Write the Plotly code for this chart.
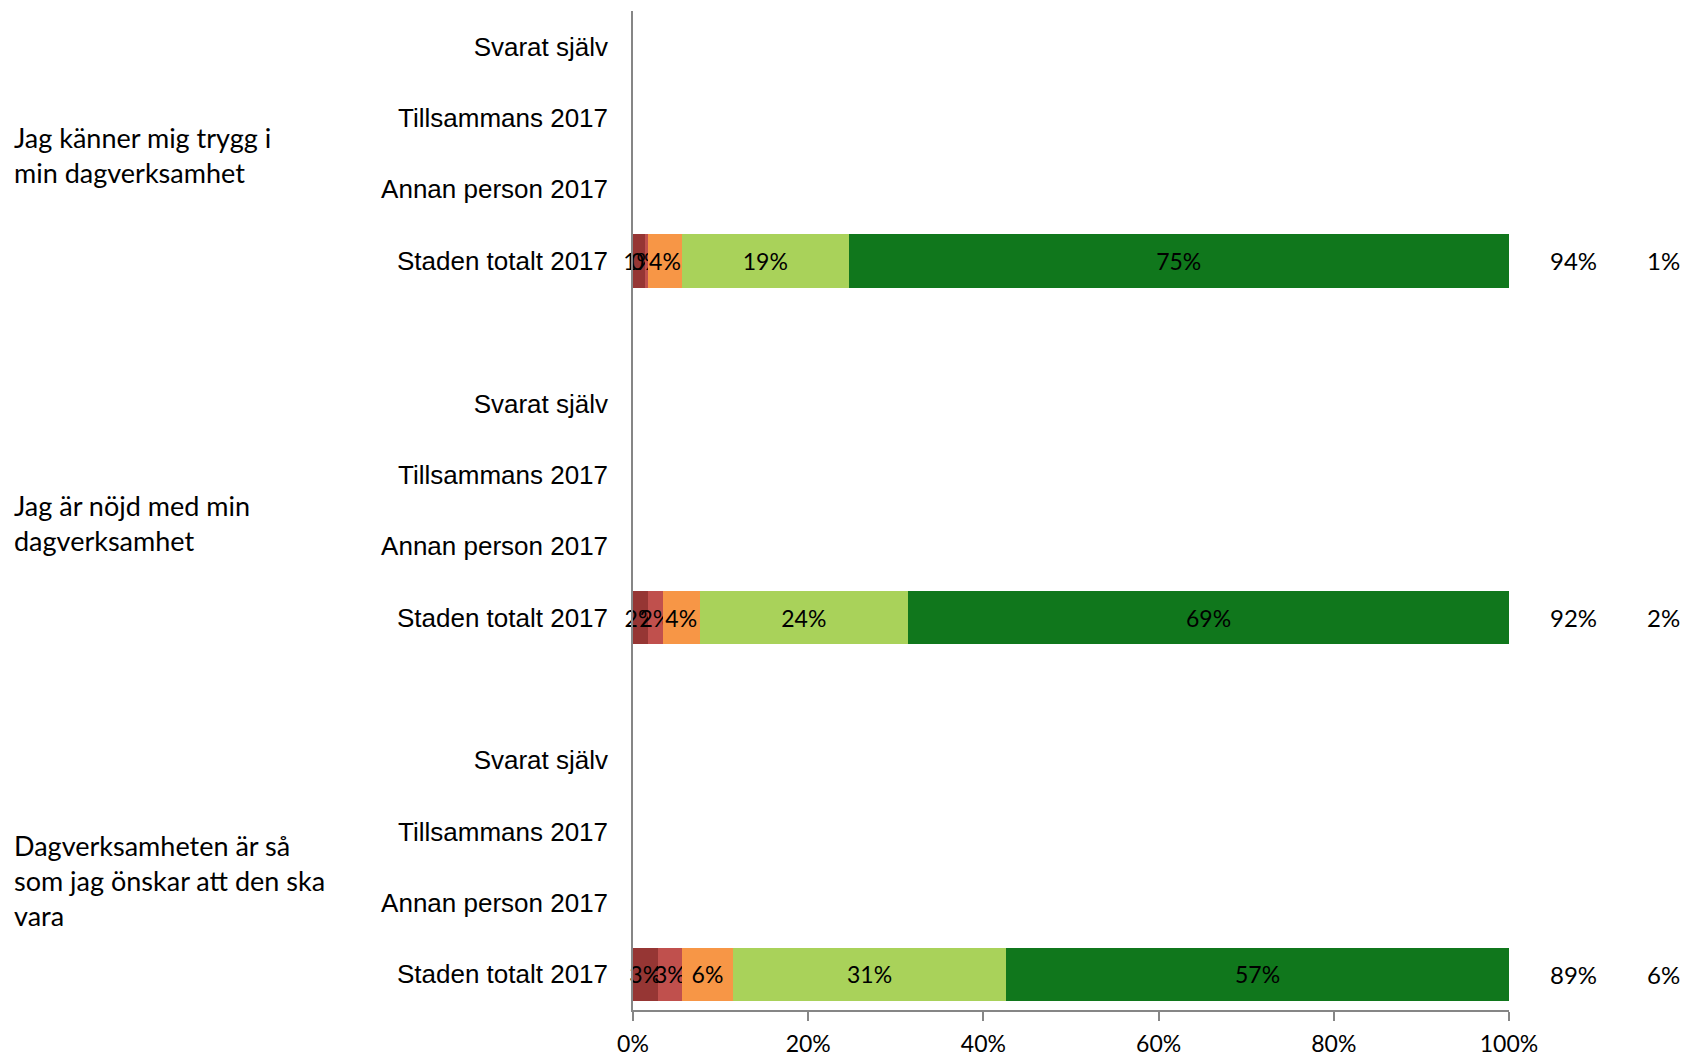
import plotly.graph_objects as go

# ---- data ----
row_labels = ["Svarat själv", "Tillsammans 2017", "Annan person 2017", "Staden totalt 2017"]
questions = [
    "Jag känner mig trygg i<br>min dagverksamhet",
    "Jag är nöjd med min<br>dagverksamhet",
    "Dagverksamheten är så<br>som jag önskar att den ska<br>vara",
]
series_names = ["Stämmer inte alls", "Stämmer ganska dåligt", "Stämmer delvis",
                "Stämmer ganska bra", "Stämmer helt"]
s_inte_alls = [1.4, 1.7, 2.8]
s_ganska_daligt = [0.3, 1.7, 2.8]
s_delvis = [3.9, 4.2, 5.8]
s_ganska_bra = [19.0, 23.8, 31.2]
s_helt = [75.4, 68.6, 57.4]
positiv_andel = ["94%", "92%", "89%"]
negativ_andel = ["1%", "2%", "6%"]
x_tick_values = [0, 20, 40, 60, 80, 100]
x_tick_labels = ["0%", "20%", "40%", "60%", "80%", "100%"]

# ---- style ----
colors = ["#963634", "#C0504D", "#F79646", "#A9D25A", "#10771C"]
series_values = [s_inte_alls, s_ganska_daligt, s_delvis, s_ganska_bra, s_helt]

slots_per_group = len(row_labels) + 1
tickvals, ticktext = [], []
for g in range(len(questions)):
    for j, lab in enumerate(row_labels):
        tickvals.append(g * slots_per_group + j)
        ticktext.append(lab)
bar_rows = [g * slots_per_group + row_labels.index("Staden totalt 2017") for g in range(len(questions))]
last_slot = tickvals[-1]

fig = go.Figure()
for name, vals, col in zip(series_names, series_values, colors):
    fig.add_trace(go.Bar(
        name=name, x=vals, y=bar_rows, orientation="h",
        marker=dict(color=col, line=dict(width=0)),
        width=0.75,
        texttemplate="%{x:.0f}%", textposition="inside", insidetextanchor="middle",
        textangle=0, constraintext="none", cliponaxis=False,
        textfont=dict(family="Lato", size=23, color="black"),
    ))

group_centers = [1.52, 6.68, 11.68]

annotations = []
for q, yc in zip(questions, group_centers):
    annotations.append(dict(text=q, xref="paper", yref="y", x=-0.709, y=yc,
                            xanchor="left", yanchor="middle", align="left", showarrow=False,
                            font=dict(family="Lato", size=27, color="black")))
for yrow, p, n in zip(bar_rows, positiv_andel, negativ_andel):
    annotations.append(dict(text=p, xref="paper", yref="y", x=1.074, y=yrow,
                            xanchor="center", yanchor="middle", showarrow=False,
                            font=dict(family="Lato", size=24, color="black")))
    annotations.append(dict(text=n, xref="paper", yref="y", x=1.176, y=yrow,
                            xanchor="center", yanchor="middle", showarrow=False,
                            font=dict(family="Lato", size=24, color="black")))

fig.update_layout(
    template="none",
    barmode="stack",
    width=1682, height=1056,
    margin=dict(l=633, r=173, t=11, b=46, autoexpand=False),
    paper_bgcolor="white", plot_bgcolor="white",
    showlegend=False,
    annotations=annotations,
    xaxis=dict(range=[0, 100], tickvals=x_tick_values, ticktext=x_tick_labels,
               showgrid=False, zeroline=False, showline=True, linecolor="#868686", linewidth=1.5,
               ticks="outside", ticklen=9, tickcolor="#868686", tickwidth=1.5,
               ticklabelstandoff=4, automargin=False,
               tickfont=dict(family="Lato", size=23, color="black")),
    yaxis=dict(range=[last_slot + 0.5, -0.5], tickvals=tickvals, ticktext=ticktext,
               showgrid=False, zeroline=False, showline=True, linecolor="#868686", linewidth=1.5,
               ticks="", ticklabelstandoff=18, automargin=False,
               tickfont=dict(family="Liberation Sans", size=26, color="black")),
)

fig.write_html("out.html", config={"displayModeBar": False},
               post_script="document.body.style.margin='0';document.body.style.overflow='hidden';")
